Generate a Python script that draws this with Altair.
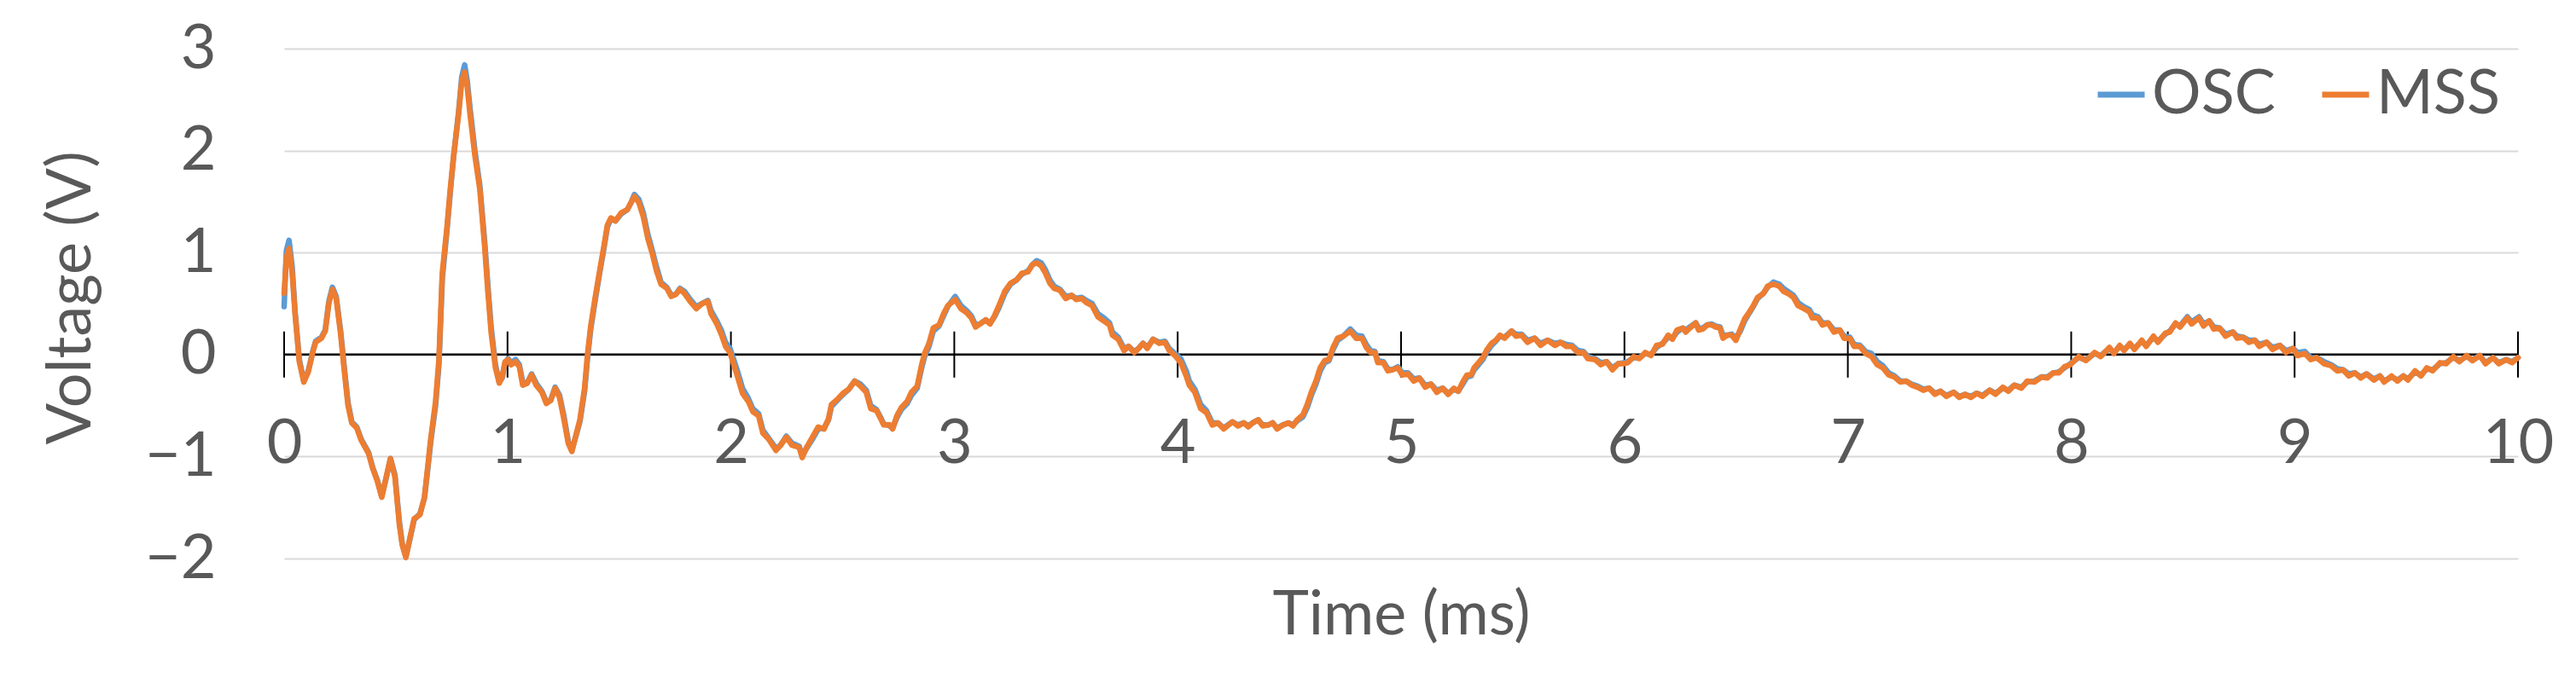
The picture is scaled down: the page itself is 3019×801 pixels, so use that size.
import altair as alt
import pandas as pd

# ---- data ----
time_ms = [
 0.000,0.010,0.022,0.036,0.049,0.068,0.088,0.108,0.128,0.141,0.167,0.184,0.200,0.216,0.233,0.253,0.268,0.286,0.303,0.325,
 0.345,0.378,0.397,0.417,0.437,0.457,0.476,0.496,0.516,0.529,0.545,0.562,0.582,0.608,0.628,0.641,0.656,0.678,0.693,0.708,
 0.729,0.745,0.759,0.781,0.795,0.808,0.820,0.832,0.854,0.876,0.898,0.912,0.927,0.946,0.963,0.976,0.989,1.003,1.016,1.036,
 1.053,1.068,1.088,1.108,1.128,1.154,1.174,1.193,1.213,1.233,1.253,1.272,1.288,1.305,1.324,1.345,1.358,1.372,1.391,1.411,
 1.430,1.447,1.463,1.483,1.509,1.536,1.553,1.568,1.588,1.608,1.628,1.647,1.667,1.687,1.713,1.733,1.753,1.772,1.792,1.818,
 1.845,1.871,1.897,1.911,1.937,1.957,1.976,1.996,2.026,2.052,2.078,2.098,2.124,2.143,2.169,2.202,2.222,2.248,2.274,2.306,
 2.319,2.339,2.365,2.391,2.417,2.437,2.450,2.476,2.502,2.528,2.554,2.580,2.606,2.626,2.652,2.671,2.684,2.711,2.724,2.743,
 2.763,2.789,2.808,2.834,2.854,2.867,2.887,2.906,2.932,2.952,2.971,3.004,3.030,3.056,3.076,3.095,3.115,3.141,3.160,3.180,
 3.200,3.226,3.252,3.278,3.304,3.330,3.349,3.369,3.389,3.408,3.428,3.447,3.473,3.499,3.525,3.545,3.571,3.591,3.617,3.643,
 3.669,3.695,3.708,3.734,3.760,3.780,3.806,3.825,3.845,3.864,3.890,3.917,3.943,3.962,3.988,4.014,4.040,4.052,4.077,4.103,
 4.129,4.155,4.180,4.206,4.245,4.270,4.296,4.316,4.336,4.361,4.380,4.406,4.425,4.445,4.471,4.496,4.516,4.535,4.561,4.580,
 4.600,4.619,4.638,4.658,4.677,4.696,4.716,4.741,4.773,4.799,4.825,4.844,4.863,4.883,4.896,4.921,4.941,4.960,4.986,5.005,
 5.031,5.057,5.082,5.108,5.134,5.160,5.186,5.211,5.237,5.256,5.276,5.295,5.314,5.327,5.347,5.366,5.385,5.405,5.424,5.443,
 5.463,5.495,5.514,5.540,5.566,5.598,5.624,5.656,5.689,5.714,5.740,5.765,5.791,5.817,5.836,5.869,5.895,5.920,5.946,5.972,
 5.997,6.015,6.041,6.067,6.093,6.119,6.144,6.170,6.196,6.215,6.235,6.261,6.274,6.293,6.319,6.332,6.351,6.370,6.390,6.409,
 6.428,6.441,6.461,6.480,6.499,6.519,6.538,6.557,6.577,6.596,6.622,6.641,6.667,6.693,6.712,6.738,6.757,6.777,6.803,6.828,
 6.841,6.867,6.886,6.912,6.938,6.964,6.983,7.009,7.028,7.054,7.080,7.106,7.132,7.157,7.183,7.209,7.235,7.261,7.286,7.312,
 7.338,7.364,7.390,7.415,7.441,7.474,7.499,7.525,7.551,7.577,7.603,7.635,7.661,7.694,7.719,7.745,7.777,7.803,7.835,7.867,
 7.893,7.919,7.945,7.970,7.996,8.033,8.066,8.105,8.132,8.171,8.191,8.217,8.237,8.263,8.283,8.316,8.336,8.368,8.388,8.421,
 8.441,8.467,8.487,8.520,8.539,8.572,8.592,8.618,8.638,8.664,8.691,8.724,8.743,8.770,8.796,8.822,8.842,8.875,8.901,8.934,
 8.961,8.993,9.013,9.046,9.072,9.099,9.132,9.164,9.191,9.217,9.243,9.270,9.296,9.322,9.355,9.382,9.401,9.434,9.461,9.487,
 9.507,9.539,9.566,9.592,9.618,9.651,9.678,9.711,9.737,9.770,9.796,9.829,9.855,9.888,9.914,9.947,9.974,10.000,
]

mss_v = [
 0.60,0.95,1.04,0.80,0.40,-0.07,-0.27,-0.17,0.02,0.12,0.16,0.23,0.50,0.64,0.55,0.20,-0.13,-0.50,-0.67,-0.72,
 -0.84,-0.97,-1.12,-1.24,-1.40,-1.20,-1.02,-1.20,-1.67,-1.87,-1.99,-1.81,-1.61,-1.57,-1.40,-1.14,-0.83,-0.46,-0.05,0.80,
 1.25,1.65,1.95,2.36,2.68,2.77,2.62,2.36,1.95,1.62,1.05,0.62,0.21,-0.13,-0.28,-0.22,-0.07,-0.05,-0.10,-0.07,
 -0.12,-0.30,-0.28,-0.20,-0.30,-0.37,-0.48,-0.45,-0.33,-0.42,-0.64,-0.87,-0.95,-0.80,-0.64,-0.33,0.00,0.27,0.54,0.80,
 1.04,1.27,1.34,1.31,1.39,1.42,1.49,1.55,1.49,1.35,1.14,1.00,0.82,0.69,0.65,0.57,0.59,0.64,0.60,0.52,
 0.45,0.50,0.52,0.40,0.30,0.20,0.08,0.02,-0.19,-0.38,-0.46,-0.56,-0.60,-0.77,-0.83,-0.94,-0.89,-0.81,-0.89,-0.91,
 -1.01,-0.91,-0.81,-0.71,-0.73,-0.63,-0.49,-0.44,-0.38,-0.34,-0.26,-0.31,-0.37,-0.53,-0.55,-0.63,-0.69,-0.69,-0.73,-0.60,
 -0.52,-0.46,-0.37,-0.31,-0.10,0.01,0.11,0.26,0.29,0.40,0.48,0.54,0.45,0.41,0.36,0.27,0.30,0.34,0.30,0.38,
 0.48,0.62,0.70,0.73,0.80,0.81,0.88,0.90,0.87,0.80,0.70,0.65,0.63,0.55,0.58,0.54,0.55,0.51,0.48,0.37,
 0.33,0.29,0.19,0.15,0.04,0.08,0.02,0.06,0.11,0.06,0.15,0.11,0.12,0.04,-0.01,-0.08,-0.22,-0.30,-0.37,-0.53,
 -0.57,-0.69,-0.67,-0.73,-0.66,-0.70,-0.67,-0.71,-0.67,-0.64,-0.70,-0.69,-0.67,-0.73,-0.69,-0.67,-0.70,-0.64,-0.59,-0.49,
 -0.36,-0.26,-0.13,-0.06,-0.05,0.07,0.16,0.18,0.23,0.16,0.16,0.07,0.02,0.02,-0.08,-0.08,-0.16,-0.15,-0.13,-0.20,
 -0.19,-0.26,-0.23,-0.32,-0.29,-0.37,-0.33,-0.39,-0.33,-0.36,-0.27,-0.20,-0.20,-0.13,-0.08,-0.03,0.05,0.11,0.14,0.19,
 0.16,0.23,0.18,0.19,0.12,0.16,0.09,0.14,0.09,0.12,0.08,0.08,0.02,0.02,-0.04,-0.05,-0.10,-0.07,-0.15,-0.09,
 -0.09,-0.08,-0.02,-0.04,0.02,-0.01,0.09,0.10,0.19,0.15,0.24,0.26,0.22,0.26,0.31,0.24,0.25,0.29,0.29,0.27,
 0.26,0.16,0.19,0.19,0.14,0.25,0.35,0.41,0.48,0.56,0.60,0.67,0.69,0.67,0.62,0.59,0.56,0.48,0.45,0.42,
 0.36,0.36,0.29,0.31,0.22,0.24,0.16,0.16,0.08,0.08,0.01,-0.02,-0.10,-0.13,-0.20,-0.22,-0.27,-0.26,-0.30,-0.32,
 -0.35,-0.33,-0.39,-0.36,-0.41,-0.37,-0.42,-0.39,-0.42,-0.38,-0.41,-0.35,-0.39,-0.32,-0.36,-0.30,-0.33,-0.26,-0.27,-0.22,
 -0.23,-0.18,-0.18,-0.12,-0.10,-0.02,-0.06,0.02,-0.02,0.07,0.01,0.09,0.04,0.11,0.05,0.14,0.08,0.18,0.12,0.21,
 0.22,0.31,0.27,0.36,0.30,0.36,0.28,0.33,0.25,0.26,0.18,0.22,0.16,0.17,0.12,0.14,0.08,0.12,0.05,0.09,
 0.02,0.06,-0.01,0.01,-0.05,-0.03,-0.09,-0.11,-0.16,-0.15,-0.21,-0.18,-0.23,-0.19,-0.25,-0.21,-0.27,-0.21,-0.26,-0.21,
 -0.25,-0.16,-0.21,-0.13,-0.16,-0.08,-0.09,-0.02,-0.07,-0.01,-0.06,-0.01,-0.09,-0.03,-0.09,-0.05,-0.08,-0.03,
]

osc_v = [
 0.47,1.02,1.12,0.86,0.42,-0.05,-0.26,-0.16,0.03,0.13,0.17,0.24,0.52,0.66,0.57,0.23,-0.10,-0.47,-0.66,-0.71,
 -0.83,-0.96,-1.11,-1.23,-1.39,-1.21,-1.02,-1.18,-1.64,-1.86,-1.98,-1.82,-1.62,-1.56,-1.41,-1.16,-0.86,-0.50,-0.10,0.74,
 1.22,1.62,1.95,2.38,2.72,2.84,2.68,2.42,2.00,1.66,1.10,0.68,0.26,-0.10,-0.27,-0.23,-0.08,-0.04,-0.08,-0.05,
 -0.10,-0.27,-0.28,-0.19,-0.28,-0.36,-0.46,-0.45,-0.32,-0.40,-0.61,-0.85,-0.94,-0.81,-0.66,-0.36,-0.04,0.24,0.51,0.78,
 1.02,1.25,1.33,1.31,1.38,1.42,1.49,1.57,1.52,1.39,1.18,1.03,0.86,0.71,0.66,0.58,0.59,0.65,0.62,0.54,
 0.47,0.50,0.53,0.43,0.33,0.24,0.12,0.06,-0.14,-0.33,-0.43,-0.53,-0.58,-0.74,-0.82,-0.92,-0.89,-0.80,-0.87,-0.90,
 -0.99,-0.92,-0.83,-0.73,-0.72,-0.64,-0.51,-0.45,-0.39,-0.34,-0.26,-0.29,-0.35,-0.50,-0.54,-0.62,-0.68,-0.70,-0.72,-0.62,
 -0.54,-0.48,-0.40,-0.33,-0.13,-0.02,0.08,0.23,0.28,0.38,0.47,0.57,0.48,0.43,0.38,0.29,0.30,0.34,0.31,0.37,
 0.46,0.60,0.69,0.73,0.79,0.82,0.88,0.92,0.90,0.83,0.73,0.67,0.64,0.57,0.58,0.55,0.56,0.53,0.50,0.40,
 0.36,0.31,0.22,0.17,0.06,0.08,0.03,0.06,0.11,0.07,0.15,0.12,0.13,0.06,0.01,-0.04,-0.17,-0.26,-0.34,-0.49,
 -0.55,-0.67,-0.67,-0.72,-0.66,-0.69,-0.67,-0.70,-0.67,-0.64,-0.69,-0.69,-0.67,-0.72,-0.69,-0.67,-0.69,-0.65,-0.61,-0.52,
 -0.39,-0.29,-0.16,-0.08,-0.06,0.05,0.14,0.18,0.25,0.19,0.18,0.10,0.04,0.03,-0.06,-0.07,-0.14,-0.15,-0.12,-0.18,
 -0.18,-0.24,-0.23,-0.30,-0.29,-0.35,-0.33,-0.38,-0.34,-0.36,-0.29,-0.22,-0.21,-0.15,-0.10,-0.05,0.03,0.09,0.13,0.18,
 0.17,0.23,0.20,0.20,0.14,0.16,0.11,0.14,0.11,0.12,0.10,0.09,0.04,0.03,-0.02,-0.04,-0.08,-0.07,-0.13,-0.09,
 -0.08,-0.07,-0.03,-0.03,0.01,0.00,0.07,0.11,0.17,0.16,0.22,0.26,0.24,0.27,0.31,0.26,0.26,0.29,0.30,0.28,
 0.27,0.19,0.19,0.20,0.16,0.23,0.33,0.40,0.47,0.55,0.60,0.66,0.71,0.69,0.65,0.61,0.58,0.51,0.47,0.44,
 0.39,0.37,0.31,0.31,0.24,0.24,0.18,0.17,0.10,0.09,0.03,0.01,-0.07,-0.11,-0.18,-0.21,-0.26,-0.26,-0.29,-0.31,
 -0.34,-0.33,-0.38,-0.36,-0.40,-0.37,-0.41,-0.39,-0.41,-0.38,-0.40,-0.35,-0.38,-0.33,-0.35,-0.30,-0.32,-0.27,-0.26,-0.22,
 -0.22,-0.18,-0.17,-0.13,-0.09,-0.03,-0.05,0.01,-0.01,0.06,0.02,0.08,0.05,0.10,0.06,0.13,0.09,0.17,0.13,0.20,
 0.23,0.30,0.28,0.37,0.32,0.37,0.30,0.33,0.27,0.26,0.20,0.22,0.18,0.17,0.14,0.14,0.10,0.12,0.07,0.09,
 0.04,0.06,0.02,0.03,-0.03,-0.03,-0.07,-0.10,-0.14,-0.15,-0.19,-0.18,-0.22,-0.19,-0.24,-0.21,-0.26,-0.22,-0.25,-0.21,
 -0.24,-0.17,-0.20,-0.14,-0.15,-0.09,-0.08,-0.03,-0.06,-0.02,-0.05,-0.01,-0.08,-0.03,-0.08,-0.05,-0.07,-0.03,
]

series_names = ["OSC", "MSS"]
series_colors = ["#5B9BD5", "#ED7D31"]
x_ticks = [0, 1, 2, 3, 4, 5, 6, 7, 8, 9, 10]
y_ticks = [-2, -1, 0, 1, 2, 3]
tick_half = 0.226  # half length of the crossing tick marks, in volts

# ---- tables built from the arrays ----
df = pd.concat([
    pd.DataFrame({"time": time_ms, "voltage": osc_v, "series": "OSC"}),
    pd.DataFrame({"time": time_ms, "voltage": mss_v, "series": "MSS"}),
], ignore_index=True)
zero_df = pd.DataFrame({"time": [x_ticks[0]], "time2": [x_ticks[-1]], "voltage": [0]})
ticks_df = pd.DataFrame({"time": x_ticks,
                         "voltage": [-tick_half] * len(x_ticks),
                         "voltage2": [tick_half] * len(x_ticks)})

FONT = "Lato"
GREY = "#595959"
FS = 72

xaxis = alt.Axis(values=x_ticks, offset=-239.2, domain=False, ticks=False, tickSize=0,
                 grid=False, labelFontSize=FS, labelColor=GREY, labelFont=FONT,
                 labelBaseline="alphabetic", labelPadding=127, labelFlush=False,
                 labelOverlap=False, title="Time (ms)", titleFontSize=FS,
                 titleFontWeight="normal", titleColor=GREY, titleFont=FONT,
                 titleBaseline="alphabetic", titleY=328)
yaxis = alt.Axis(values=y_ticks, domain=False, ticks=False, tickSize=0, grid=True,
                 gridColor="#D9D9D9", gridWidth=2, labelFontSize=FS, labelColor=GREY,
                 labelFont=FONT, labelPadding=80, labelBaseline="middle",
                 labelOverlap=False, title="Voltage (V)", titleFontSize=FS,
                 titleFontWeight="normal", titleColor=GREY, titleFont=FONT,
                 titleX=-250, titleY=292, titleAlign="center", titleBaseline="middle")

X = alt.X("time:Q", scale=alt.Scale(domain=[x_ticks[0], x_ticks[-1]], nice=False, zero=False), axis=xaxis)
Y = alt.Y("voltage:Q", scale=alt.Scale(domain=[y_ticks[0], y_ticks[-1]], nice=False, zero=False), axis=yaxis)

legend = alt.Legend(orient="none", legendX=2117, legendY=18, direction="horizontal", columns=2,
                    symbolType="stroke", symbolSize=3025, symbolStrokeWidth=7,
                    labelFontSize=FS, labelColor=GREY, labelFont=FONT, labelOffset=0,
                    labelLimit=500, columnPadding=40, padding=0, title=None)
color = alt.Color("series:N", scale=alt.Scale(domain=series_names, range=series_colors), legend=legend)

zero_line = alt.Chart(zero_df).mark_rule(color="black", strokeWidth=2.5).encode(
    x=X, x2="time2:Q", y=Y)
tick_marks = alt.Chart(ticks_df).mark_rule(color="black", strokeWidth=2).encode(
    x=X, y=Y, y2="voltage2:Q")

line_kw = dict(strokeWidth=6.5, strokeJoin="round", strokeCap="round")
osc_line = alt.Chart(df).transform_filter(alt.datum.series == "OSC").mark_line(**line_kw).encode(
    x=X, y=Y, color=color, order="time:Q")
mss_line = alt.Chart(df).transform_filter(alt.datum.series == "MSS").mark_line(**line_kw).encode(
    x=X, y=Y, color=color, order="time:Q")

chart = alt.layer(zero_line, tick_marks, osc_line, mss_line).properties(
    width=2618, height=598,
    padding={"left": 325, "top": 49, "right": 50, "bottom": 120},
    autosize=alt.AutoSizeParams(type="none"),
).configure(font=FONT).configure_view(stroke=None)

chart.save("out.html", embed_options={"renderer": "svg", "actions": False})
